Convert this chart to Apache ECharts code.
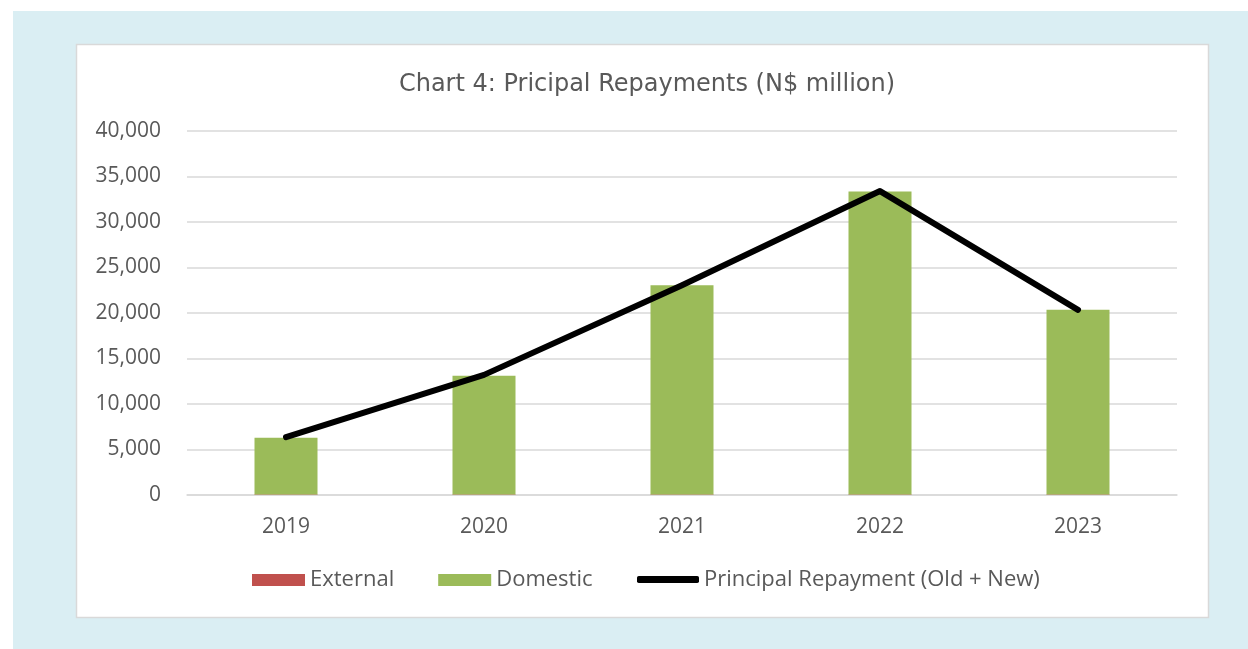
<!DOCTYPE html>
<html>
<head>
<meta charset="utf-8">
<script src="https://cdn.jsdelivr.net/npm/echarts@6/dist/echarts.min.js"></script>
<style>
html,body{margin:0;padding:0;background:#fff;}
#chart{width:1248px;height:649px;}
</style>
</head>
<body>
<div id="chart"></div>
<script>
var categories = ['2019', '2020', '2021', '2022', '2023'];
var external = [50, 50, 50, 50, 50];
var domestic = [6250, 13050, 23000, 33300, 20300];
var principalRepayment = [6350, 13200, 23050, 33400, 20350];
var yTicks = { min: 0, max: 40000, interval: 5000 };

var FONT = 'Open Sans';
var TXT = '#595959';

var chart = echarts.init(document.getElementById('chart'));
chart.setOption({
  animation: false,
  graphic: [
    { type: 'rect', z: -10, silent: true, shape: { x: 13, y: 11, width: 1235, height: 638 }, style: { fill: '#DAEEF3' } },
    { type: 'rect', z: -9, silent: true, shape: { x: 76.5, y: 44.5, width: 1132, height: 573 }, style: { fill: '#ffffff', stroke: '#D9D9D9', lineWidth: 1.5 } }
  ],
  title: {
    text: 'Chart 4: Pricipal Repayments (N$ million)',
    left: 642, top: 68, textAlign: 'center',
    textStyle: { fontFamily: 'DejaVu Sans', fontSize: 24, fontWeight: 'normal', color: TXT }
  },
  legend: [
    {
      data: ['External', 'Domestic'],
      left: 252, top: 569, padding: 0,
      itemWidth: 53, itemHeight: 12, itemGap: 44,
      icon: 'rect',
      textStyle: { fontFamily: FONT, fontSize: 22, color: TXT }
    },
    {
      data: [{ name: 'Principal Repayment (Old + New)', icon: 'roundRect' }],
      left: 637, top: 568.5, padding: 0,
      itemWidth: 62, itemHeight: 7,
      textStyle: { fontFamily: FONT, fontSize: 22, color: TXT }
    }
  ],
  grid: { left: 187, right: 71, top: 131, bottom: 154, containLabel: false },
  xAxis: {
    type: 'category',
    data: categories,
    axisTick: { show: false },
    axisLine: { lineStyle: { color: '#D9D9D9', width: 1.5 } },
    axisLabel: { fontFamily: FONT, fontSize: 21, color: TXT, margin: 22 }
  },
  yAxis: {
    type: 'value',
    min: yTicks.min, max: yTicks.max, interval: yTicks.interval,
    axisLine: { show: false },
    axisTick: { show: false },
    splitLine: { lineStyle: { color: '#D9D9D9', width: 1.5 } },
    axisLabel: {
      fontFamily: FONT, fontSize: 21, color: TXT, margin: 26,
      formatter: function (v) { return v.toLocaleString('en-US'); }
    }
  },
  series: [
    { name: 'External', type: 'bar', stack: 'total', barWidth: 63, data: external, itemStyle: { color: '#C0504D' } },
    { name: 'Domestic', type: 'bar', stack: 'total', barWidth: 63, data: domestic, itemStyle: { color: '#9BBB59' } },
    {
      name: 'Principal Repayment (Old + New)', type: 'line', data: principalRepayment,
      symbol: 'none', z: 5,
      lineStyle: { color: '#000000', width: 6, cap: 'round', join: 'round' },
      itemStyle: { color: '#000000' }
    }
  ]
});
</script>
</body>
</html>
